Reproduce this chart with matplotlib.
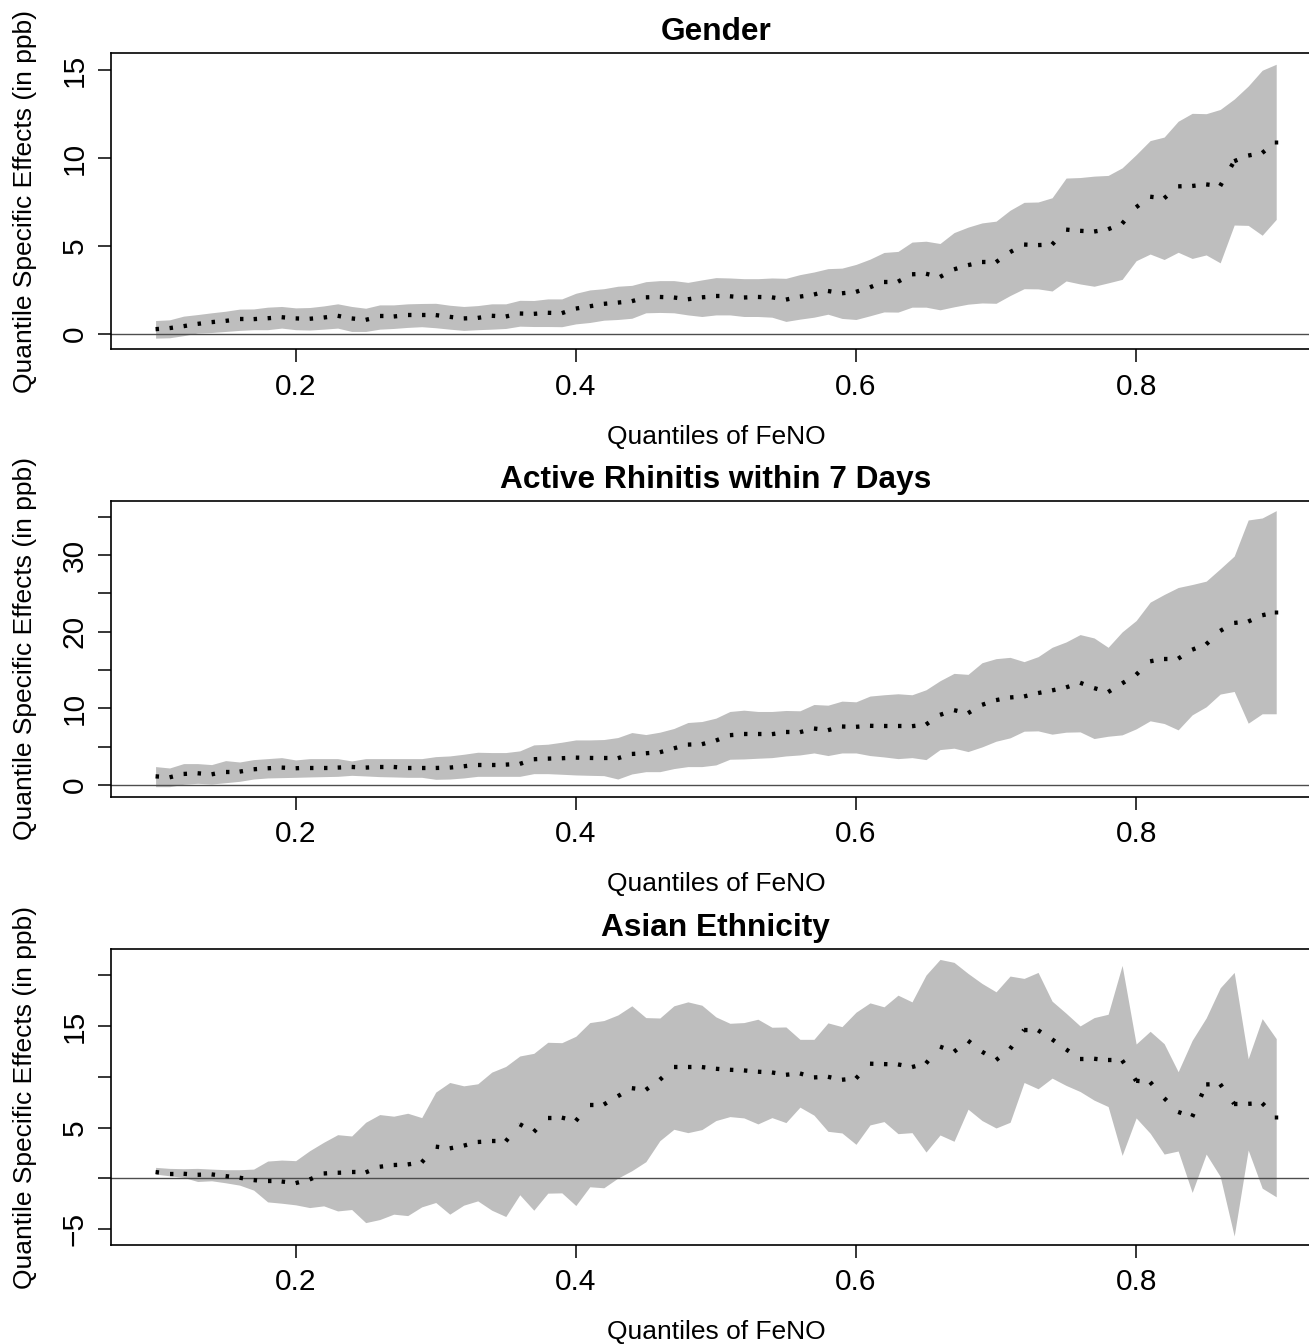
import numpy as np
import matplotlib
matplotlib.use("Agg")
import matplotlib.pyplot as plt
from matplotlib.collections import LineCollection

plt.rcParams['font.family'] = ['Liberation Sans', 'DejaVu Sans']

# quantile grid 0.10 ... 0.90
quantiles = np.round(np.arange(0.10, 0.905, 0.01), 2)

titles = ["Gender", "Active Rhinitis within 7 Days", "Asian Ethnicity"]

# Gender
est_gender = [0.28, 0.34, 0.45, 0.58, 0.68, 0.75, 0.85, 0.85, 0.90, 0.96,
              0.89, 0.87, 0.94, 1.04, 0.89, 0.81, 1.00, 1.00, 1.08, 1.08,
              1.08, 0.98, 0.89, 0.92, 1.04, 1.00, 1.17, 1.15, 1.21, 1.19,
              1.45, 1.58, 1.72, 1.79, 1.87, 2.09, 2.11, 2.08, 1.98, 2.09,
              2.15, 2.15, 2.08, 2.11, 2.09, 1.96, 2.13, 2.25, 2.45, 2.32,
              2.40, 2.66, 2.98, 2.98, 3.40, 3.43, 3.25, 3.68, 3.92, 4.09,
              4.09, 4.66, 5.09, 5.06, 5.09, 5.94, 5.87, 5.83, 5.96, 6.28,
              7.21, 7.81, 7.72, 8.40, 8.42, 8.51, 8.42, 9.83, 10.15, 10.30,
              10.94]
hi_gender = [0.77, 0.81, 1.02, 1.11, 1.21, 1.30, 1.42, 1.43, 1.53, 1.57,
             1.49, 1.51, 1.60, 1.72, 1.57, 1.47, 1.66, 1.66, 1.72, 1.74,
             1.75, 1.64, 1.57, 1.62, 1.72, 1.72, 1.92, 1.91, 2.00, 2.00,
             2.32, 2.51, 2.58, 2.72, 2.77, 2.98, 3.04, 3.04, 2.94, 3.08,
             3.21, 3.19, 3.15, 3.15, 3.19, 3.17, 3.38, 3.53, 3.72, 3.75,
             3.96, 4.26, 4.64, 4.70, 5.23, 5.28, 5.15, 5.77, 6.08, 6.32,
             6.42, 7.04, 7.49, 7.51, 7.75, 8.87, 8.90, 8.98, 9.02, 9.45,
             10.20, 11.00, 11.20, 12.10, 12.55, 12.53, 12.77, 13.36, 14.10, 15.00,
             15.34]
lo_gender = [-0.23, -0.21, -0.09, 0.06, 0.09, 0.15, 0.21, 0.25, 0.25, 0.34,
             0.25, 0.23, 0.28, 0.34, 0.15, 0.15, 0.28, 0.32, 0.38, 0.42,
             0.36, 0.28, 0.21, 0.25, 0.28, 0.32, 0.45, 0.43, 0.43, 0.42,
             0.58, 0.66, 0.79, 0.83, 0.90, 1.21, 1.23, 1.21, 1.09, 1.00,
             1.09, 1.09, 1.00, 1.00, 0.96, 0.72, 0.85, 0.96, 1.13, 0.89,
             0.83, 1.04, 1.26, 1.25, 1.53, 1.53, 1.38, 1.55, 1.70, 1.77,
             1.75, 2.19, 2.58, 2.57, 2.45, 3.02, 2.85, 2.72, 2.91, 3.11,
             4.17, 4.55, 4.24, 4.65, 4.30, 4.50, 4.05, 6.20, 6.18, 5.62,
             6.52]

# Active rhinitis within 7 days
est_rhinitis = [1.13, 1.00, 1.44, 1.53, 1.39, 1.74, 1.74, 2.05, 2.18, 2.27,
                2.18, 2.27, 2.27, 2.27, 2.35, 2.27, 2.35, 2.35, 2.22, 2.22,
                2.22, 2.27, 2.44, 2.66, 2.66, 2.66, 2.75, 3.36, 3.44, 3.49,
                3.57, 3.53, 3.49, 3.49, 4.05, 4.14, 4.27, 4.78, 5.27, 5.32,
                5.80, 6.50, 6.63, 6.63, 6.63, 6.89, 6.89, 7.37, 7.15, 7.63,
                7.59, 7.72, 7.67, 7.67, 7.67, 7.89, 9.15, 9.76, 9.37, 10.46,
                11.07, 11.42, 11.55, 11.99, 12.34, 12.73, 13.34, 12.64, 12.12, 13.25,
                14.39, 16.13, 16.48, 16.48, 17.65, 18.35, 20.10, 21.14, 21.32, 22.14,
                22.54]
hi_rhinitis = [2.40, 2.22, 2.79, 2.79, 2.66, 3.18, 3.00, 3.31, 3.44, 3.57,
               3.27, 3.44, 3.44, 3.44, 3.14, 3.44, 3.44, 3.44, 3.44, 3.44,
               3.70, 3.79, 4.01, 4.27, 4.23, 4.23, 4.45, 5.23, 5.32, 5.58,
               5.88, 5.88, 5.93, 6.19, 6.84, 6.58, 6.89, 7.37, 8.15, 8.28,
               8.72, 9.59, 9.76, 9.59, 9.59, 9.72, 9.68, 10.50, 10.41, 10.94,
               10.85, 11.60, 11.77, 11.90, 11.77, 12.42, 13.60, 14.56, 14.43, 15.95,
               16.48, 16.65, 16.09, 16.74, 17.96, 18.66, 19.62, 19.18, 17.96, 19.97,
               21.45, 23.85, 24.85, 25.76, 26.15, 26.59, 28.20, 29.86, 34.57, 34.83,
               35.79]
lo_rhinitis = [-0.22, -0.22, 0.09, 0.22, 0.13, 0.30, 0.48, 0.78, 0.92, 0.96,
               1.00, 1.05, 1.09, 1.13, 1.26, 1.18, 1.09, 1.05, 1.00, 1.00,
               0.74, 0.78, 0.92, 1.13, 1.13, 1.13, 1.13, 1.48, 1.48, 1.40,
               1.31, 1.26, 1.22, 0.78, 1.44, 1.74, 1.74, 2.14, 2.40, 2.40,
               2.62, 3.36, 3.40, 3.49, 3.57, 3.79, 3.92, 4.18, 3.84, 4.18,
               4.18, 3.84, 3.66, 3.44, 3.57, 3.31, 4.62, 4.80, 4.36, 4.97,
               5.71, 6.15, 7.02, 7.06, 6.63, 6.89, 6.93, 6.06, 6.36, 6.54,
               7.32, 8.37, 8.02, 7.19, 9.15, 10.20, 11.86, 12.20, 8.06, 9.29,
               9.29]

# Asian ethnicity
est_asian = [0.63, 0.46, 0.46, 0.36, 0.40, 0.23, 0.07, -0.16, -0.30, -0.30,
             -0.46, -0.10, 0.49, 0.56, 0.59, 0.59, 1.15, 1.32, 1.38, 1.58,
             3.13, 2.96, 3.23, 3.59, 3.66, 3.66, 5.34, 4.58, 5.99, 5.99,
             5.67, 7.28, 7.28, 8.10, 8.89, 8.73, 9.72, 10.97, 10.97, 10.97,
             10.80, 10.70, 10.64, 10.51, 10.44, 10.21, 10.34, 9.95, 10.01, 9.72,
             9.85, 11.30, 11.26, 11.23, 10.97, 11.33, 12.98, 12.48, 13.57, 12.48,
             11.66, 12.75, 14.62, 14.59, 13.70, 12.71, 11.79, 11.79, 11.63, 11.63,
             9.62, 9.49, 7.91, 6.55, 6.06, 9.26, 9.29, 7.35, 7.35, 7.41,
             6.03]
hi_asian = [1.09, 0.99, 0.96, 0.99, 0.92, 0.86, 0.86, 0.92, 1.71, 1.81,
            1.75, 2.73, 3.56, 4.31, 4.18, 5.53, 6.29, 6.13, 6.42, 5.99,
            8.50, 9.45, 9.12, 9.32, 10.47, 11.03, 12.06, 12.32, 13.41, 13.37,
            14.00, 15.35, 15.55, 16.10, 17.00, 15.84, 15.80, 17.00, 17.39, 17.06,
            15.91, 15.28, 15.35, 15.68, 14.89, 14.92, 13.70, 13.70, 15.32, 14.95,
            16.37, 17.29, 16.90, 18.05, 17.39, 20.03, 21.57, 21.28, 20.19, 19.20,
            18.38, 19.93, 19.70, 20.29, 17.46, 16.27, 15.02, 15.84, 16.17, 20.98,
            13.24, 14.49, 13.27, 10.51, 13.60, 15.81, 18.77, 20.29, 11.79, 15.74,
            13.77]
lo_asian = [0.43, 0.26, 0.10, -0.30, -0.23, -0.43, -0.66, -1.15, -2.31, -2.44,
            -2.60, -2.87, -2.70, -3.20, -3.06, -4.35, -4.05, -3.52, -3.66, -2.80,
            -2.37, -3.52, -2.63, -2.21, -3.13, -3.75, -1.61, -3.13, -1.45, -1.42,
            -2.67, -0.82, -0.92, 0.03, 0.76, 1.65, 3.72, 4.84, 4.51, 4.81,
            5.70, 6.09, 5.96, 5.37, 5.99, 5.50, 7.02, 6.23, 4.64, 4.48,
            3.36, 5.27, 5.60, 4.41, 4.51, 2.60, 4.28, 3.66, 6.82, 5.70,
            4.97, 5.53, 9.45, 8.83, 9.88, 9.16, 8.56, 7.71, 7.08, 2.27,
            5.96, 4.45, 2.40, 2.70, -1.38, 2.40, 0.20, -5.67, 2.80, -0.96,
            -1.81]

panels = [
    (est_gender, lo_gender, hi_gender),
    (est_rhinitis, lo_rhinitis, hi_rhinitis),
    (est_asian, lo_asian, hi_asian),
]
ylims = [(-0.85, 15.96), (-1.53, 37.04), (-6.55, 22.57)]
yticks = [[0, 5, 10, 15],
          [0, 5, 10, 15, 20, 25, 30, 35],
          [-5, 0, 5, 10, 15, 20]]
yticklabels = [["0", "5", "10", "15"],
               ["0", "", "10", "", "20", "", "30", ""],
               ["\u22125", "", "5", "", "15", ""]]
xticks = [0.2, 0.4, 0.6, 0.8]

fig = plt.figure(figsize=(13.09, 13.44), dpi=100)
bottoms = [0.7403, 0.4072, 0.0737]

for i, (est, lo, hi) in enumerate(panels):
    ax = fig.add_axes([0.0846, bottoms[i], 0.9246, 0.2200])
    est = np.asarray(est)

    ax.fill_between(quantiles, lo, hi, color='#bebebe', linewidth=0)
    ax.axhline(0, color='#4d4d4d', lw=1.0, zorder=2)

    # dotted estimate: dash pattern restarts on every segment (like R's device)
    pts = np.column_stack([quantiles, est])
    segs = np.stack([pts[:-1], pts[1:]], axis=1)
    lc = LineCollection(segs, colors='black', linewidths=3.1,
                        linestyles=[(0, (0.8, 4.3))], capstyle='butt', zorder=3)
    ax.add_collection(lc)
    ax.plot(quantiles[-1:], est[-1:], linestyle='none', marker='|',
            ms=3.1, mew=2.5, color='black', zorder=3)

    ax.set_xlim(0.068, 0.932)
    ax.set_ylim(*ylims[i])
    ax.set_xticks(xticks)
    ax.set_xticklabels(["0.2", "0.4", "0.6", "0.8"])
    ax.set_yticks(yticks[i])
    ax.set_yticklabels(yticklabels[i])

    ax.tick_params(axis='both', direction='out', length=9.4, width=1.1,
                   labelsize=21.5, color='black')
    ax.tick_params(axis='x', pad=7.5)
    ax.tick_params(axis='y', pad=6.7, labelrotation=90)
    for lab in ax.get_yticklabels():
        lab.set_va('center')

    for sp in ax.spines.values():
        sp.set_linewidth(1.2)

    ax.set_title(titles[i], fontsize=22.8, fontweight='bold', pad=9.5)
    ax.set_xlabel("Quantiles of FeNO", fontsize=19)
    ax.xaxis.set_label_coords(0.5, -0.2555)
    ax.set_ylabel("Quantile Specific Effects (in ppb)", fontsize=19)
    ax.yaxis.set_label_coords(-0.0606, 0.5)

fig.savefig("out.png", dpi=100)
